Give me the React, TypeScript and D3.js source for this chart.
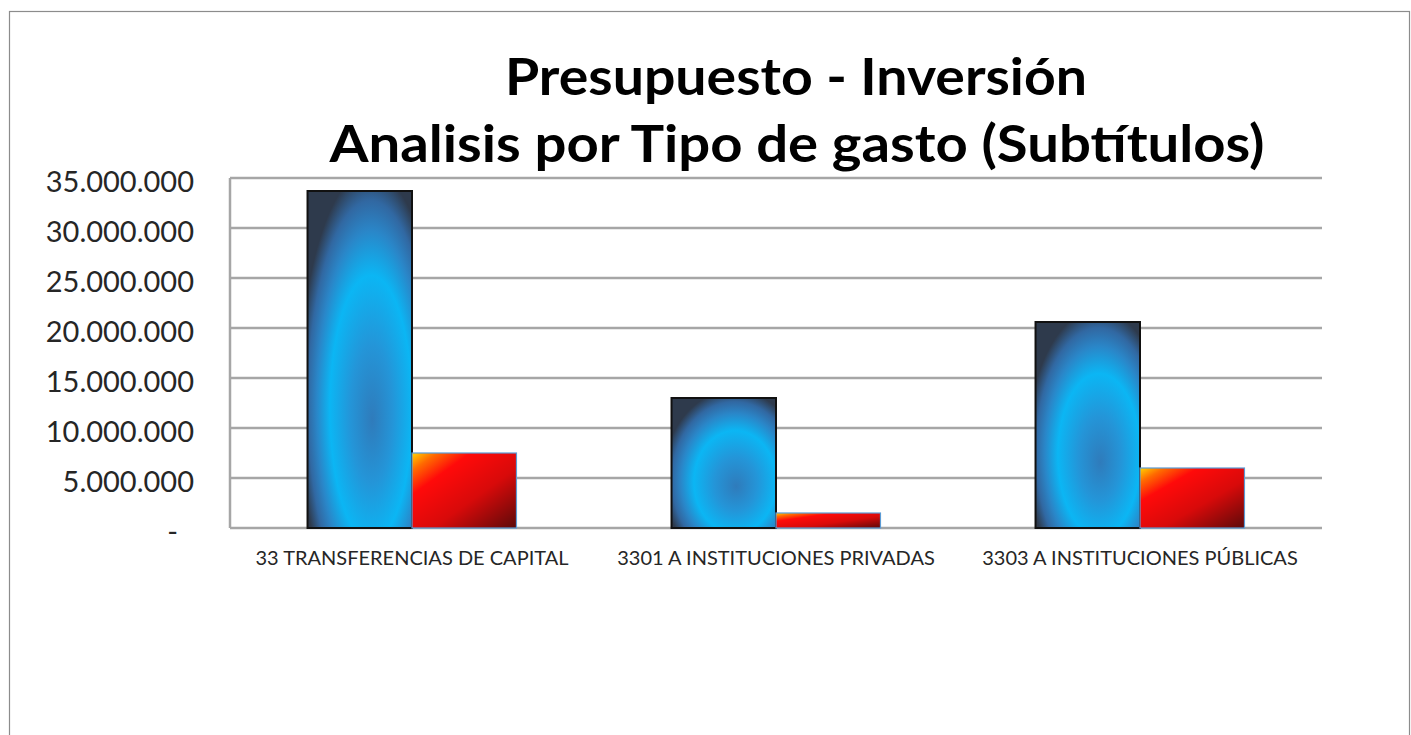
import React, { useEffect, useRef } from 'react';
import * as d3 from 'd3';

// data
const categories = [
  '33 TRANSFERENCIAS DE CAPITAL',
  '3301 A INSTITUCIONES PRIVADAS',
  '3303 A INSTITUCIONES PÚBLICAS',
];
const seriesNames = ['Presupuesto', 'Inversión'];
const presupuesto = [33700000, 13000000, 20600000];
const inversion = [7500000, 1500000, 6000000];
const yTicks = [0, 5000000, 10000000, 15000000, 20000000, 25000000, 30000000, 35000000];
const titleLines = ['Presupuesto - Inversión', 'Analisis por Tipo de gasto (Subtítulos)'];

const W = 1411;
const H = 735;

const fmt = (v: number) => (v === 0 ? '-' : d3.format(',')(v).replace(/,/g, '.'));

const App = () => {
  const svgRef = useRef<SVGSVGElement>(null);

  useEffect(() => {
    const svg = d3.select(svgRef.current);
    svg.selectAll('*').remove();

    const plot = { left: 230, right: 1322, top: 178, bottom: 528 };

    const defs = svg.append('defs');

    // blue "path" gradient like the excel fill
    const rg = defs.append('radialGradient')
      .attr('id', 'blueFill')
      .attr('cx', 0.6).attr('cy', 0.62)
      .attr('fx', 0.62).attr('fy', 0.68)
      .attr('r', 0.68);
    [
      [0, '#2f7bbb'],
      [0.3, '#2495d8'],
      [0.58, '#0bb6f4'],
      [0.76, '#2a86c8'],
      [0.88, '#3168a2'],
      [1, '#2e3a4c'],
    ].forEach(([o, c]) => rg.append('stop').attr('offset', o as number).attr('stop-color', c as string));

    const lg = defs.append('linearGradient')
      .attr('id', 'redFill')
      .attr('x1', 0).attr('y1', 0).attr('x2', 1).attr('y2', 1);
    [
      [0, '#ffd400'],
      [0.12, '#ff6a00'],
      [0.28, '#ff0a0a'],
      [0.6, '#d80a0a'],
      [1, '#5c0a0a'],
    ].forEach(([o, c]) => lg.append('stop').attr('offset', o as number).attr('stop-color', c as string));

    // chart area border
    svg.append('rect')
      .attr('x', 9.5).attr('y', 11.5)
      .attr('width', 1400).attr('height', 740)
      .attr('fill', '#fff')
      .attr('stroke', '#8c8c8c')
      .attr('stroke-width', 1.2);

    // title
    const title = svg.append('text')
      .attr('text-anchor', 'middle')
      .attr('font-family', 'Lato, "Open Sans", sans-serif')
      .attr('font-weight', 'bold')
      .attr('font-size', 52)
      .attr('fill', '#000');
    title.append('tspan').attr('x', 796).attr('y', 95)
      .attr('textLength', 582).attr('lengthAdjust', 'spacingAndGlyphs')
      .text(titleLines[0]);
    title.append('tspan').attr('x', 797).attr('y', 162)
      .attr('textLength', 935).attr('lengthAdjust', 'spacingAndGlyphs')
      .text(titleLines[1]);

    // scales
    const y = d3.scaleLinear().domain([0, 35000000]).range([plot.bottom, plot.top]);
    const x0 = d3.scaleBand().domain(categories).range([plot.left, plot.right]).padding(0);
    const x1 = d3.scaleBand().domain(seriesNames)
      .range([0, x0.bandwidth()]).paddingInner(0).paddingOuter(0.742);

    // gridlines
    svg.append('g')
      .selectAll('line')
      .data(yTicks)
      .join('line')
      .attr('x1', plot.left).attr('x2', plot.right)
      .attr('y1', d => y(d)).attr('y2', d => y(d))
      .attr('stroke', '#a6a6a6')
      .attr('stroke-width', 2.5);

    svg.append('line')
      .attr('x1', plot.left).attr('x2', plot.left)
      .attr('y1', plot.top).attr('y2', plot.bottom)
      .attr('stroke', '#a6a6a6')
      .attr('stroke-width', 2.5);

    // y tick labels
    svg.append('g')
      .selectAll('text')
      .data(yTicks)
      .join('text')
      .attr('x', d => (d === 0 ? 178 : 194))
      .attr('y', d => y(d) + 4)
      .attr('dy', '0.35em')
      .attr('text-anchor', 'end')
      .attr('font-family', 'Lato, sans-serif')
      .attr('font-size', 29)
      .attr('fill', '#262626')
      .text(d => fmt(d));

    // bars
    const rows = categories.map((c, i) => ({ cat: c, vals: [presupuesto[i], inversion[i]] }));
    const groups = svg.append('g')
      .selectAll('g')
      .data(rows)
      .join('g')
      .attr('transform', d => `translate(${x0(d.cat)},0)`);

    groups.selectAll('rect')
      .data(d => d.vals.map((v, j) => ({ s: seriesNames[j], v })))
      .join('rect')
      .attr('x', d => x1(d.s)!)
      .attr('width', x1.bandwidth())
      .attr('y', d => y(d.v))
      .attr('height', d => plot.bottom - y(d.v))
      .attr('fill', d => (d.s === seriesNames[0] ? 'url(#blueFill)' : 'url(#redFill)'))
      .attr('stroke', d => (d.s === seriesNames[0] ? '#111' : '#5b9bd5'))
      .attr('stroke-width', d => (d.s === seriesNames[0] ? 2 : 1.2));

    // x labels
    svg.append('g')
      .selectAll('text')
      .data(categories)
      .join('text')
      .attr('x', d => x0(d)! + x0.bandwidth() / 2)
      .attr('y', 565)
      .attr('text-anchor', 'middle')
      .attr('font-family', 'Lato, sans-serif')
      .attr('font-size', 20)
      .attr('fill', '#262626')
      .text(d => d);
  }, []);

  return (
    <svg
      ref={svgRef}
      width={W}
      height={H}
      style={{ position: 'absolute', left: 0, top: 0, display: 'block' }}
    />
  );
};

export default App;
